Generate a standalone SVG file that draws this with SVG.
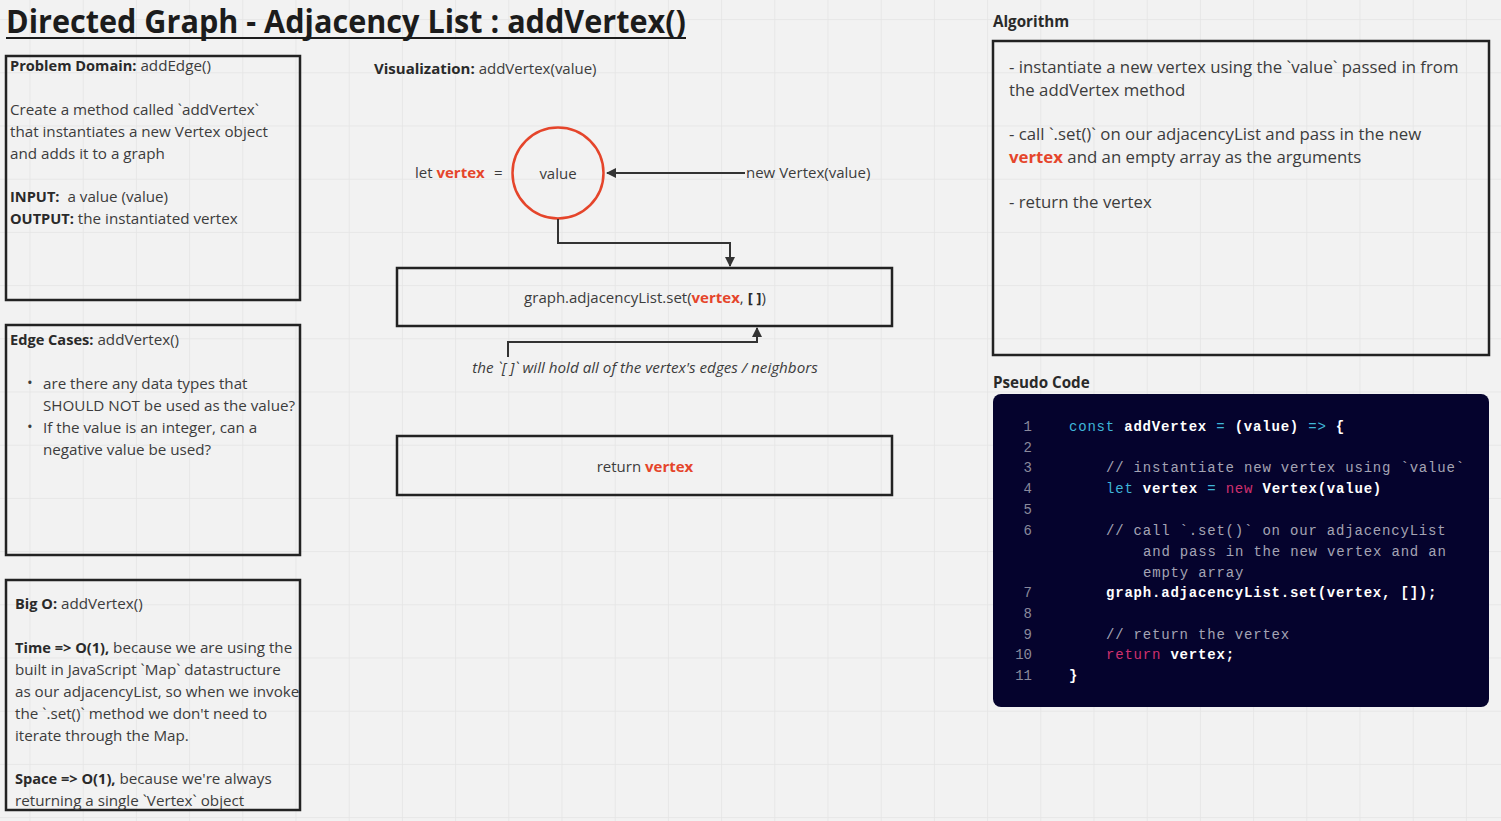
<svg xmlns="http://www.w3.org/2000/svg" width="1501" height="821" viewBox="0 0 1501 821">
<defs>
<pattern id="grid" x="29.5" y="19.1" width="53.2" height="53.2" patternUnits="userSpaceOnUse">
<path d="M0 0H53.2M0 0V53.2" fill="none" stroke="#e4e4e4" stroke-width="1.5"/>
</pattern>
<marker id="arrow" markerWidth="10" markerHeight="10" refX="9" refY="5" orient="auto" markerUnits="userSpaceOnUse">
<path d="M0,0 L10,5 L0,10 z" fill="#333"/>
</marker>
</defs>
<style>
.t{font-family:"Open Sans","Liberation Sans",sans-serif;fill:#3c3c3c;font-size:15.2px}
.b{font-weight:bold;fill:#2a2a2a}
.lb{font-size:14.6px}
.r{font-weight:bold;fill:#e5452b}
.box{fill:none;stroke:#222;stroke-width:2.5}
.conn{fill:none;stroke:#333;stroke-width:2}
.alg{font-size:16.8px}
.mid{font-size:15px}
.code{font-family:"Liberation Mono","DejaVu Sans Mono",monospace;font-size:14px;letter-spacing:0.8px;fill:#ffffff;font-weight:bold}
.ln{font-family:"Liberation Mono","DejaVu Sans Mono",monospace;font-size:14px;fill:#8a8a9c}
.kw{fill:#3fb6d8;font-weight:normal}
.pk{fill:#d0306e;font-weight:normal}
.cm{fill:#a4a4b4;font-weight:normal}
</style>
<rect width="1501" height="821" fill="#f2f2f2"/>
<rect width="1501" height="821" fill="url(#grid)"/>

<g id="title">
<text x="6" y="33" font-family="Open Sans, Liberation Sans, sans-serif" font-weight="bold" font-size="33" fill="#1c1c1c" textLength="680" lengthAdjust="spacingAndGlyphs">Directed Graph - Adjacency List : addVertex()</text>
<line x1="6" y1="38" x2="686" y2="38" stroke="#1c1c1c" stroke-width="2"/>
</g>

<g id="problem-domain">
<rect class="box" x="6" y="56" width="294" height="244"/>
<text class="t" x="10" y="71"><tspan class="b lb">Problem Domain:</tspan> addEdge()</text>
<text class="t" x="10" y="115">Create a method called `addVertex`</text>
<text class="t" x="10" y="137">that instantiates a new Vertex object</text>
<text class="t" x="10" y="159">and adds it to a graph</text>
<text class="t" x="10" y="202"><tspan class="b lb">INPUT:</tspan>&#160;&#160;a value (value)</text>
<text class="t" x="10" y="224"><tspan class="b lb">OUTPUT:</tspan> the instantiated vertex</text>
</g>

<g id="edge-cases">
<rect class="box" x="6" y="325" width="294" height="230"/>
<text class="t" x="10" y="345"><tspan class="b lb">Edge Cases:</tspan> addVertex()</text>
<text class="t" x="27" y="388" font-size="10">•</text>
<text class="t" x="43" y="389">are there any data types that</text>
<text class="t" x="43" y="411">SHOULD NOT be used as the value?</text>
<text class="t" x="27" y="432" font-size="10">•</text>
<text class="t" x="43" y="433">If the value is an integer, can a</text>
<text class="t" x="43" y="455">negative value be used?</text>
</g>

<g id="big-o">
<rect class="box" x="6" y="580" width="294" height="230"/>
<text class="t" x="15" y="609"><tspan class="b lb">Big O:</tspan> addVertex()</text>
<text class="t" x="15" y="653"><tspan class="b lb">Time =&gt; O(1),</tspan> because we are using the</text>
<text class="t" x="15" y="675">built in JavaScript `Map` datastructure</text>
<text class="t" x="15" y="697">as our adjacencyList, so when we invoke</text>
<text class="t" x="15" y="719">the `.set()` method we don't need to</text>
<text class="t" x="15" y="741">iterate through the Map.</text>
<text class="t" x="15" y="784"><tspan class="b lb">Space =&gt; O(1),</tspan> because we're always</text>
<text class="t" x="15" y="806">returning a single `Vertex` object</text>
</g>

<g id="visualization-label">
<text class="t mid" x="374" y="74"><tspan class="b">Visualization:</tspan> addVertex(value)</text>
</g>

<g id="vertex-node">
<circle cx="558" cy="173" r="45.5" fill="none" stroke="#e5452b" stroke-width="2.5"/>
<text class="t mid" x="558" y="179" text-anchor="middle">value</text>
<text class="t mid" x="415" y="178">let <tspan class="r">vertex</tspan></text>
<text class="t mid" x="494" y="178">=</text>
</g>

<g id="new-vertex-label">
<text class="t mid" x="746" y="178">new Vertex(value)</text>
</g>

<g id="set-node">
<rect class="box" x="397" y="268" width="495" height="58"/>
<text class="t mid" x="645" y="303" text-anchor="middle">graph.adjacencyList.set(<tspan class="r">vertex</tspan>, <tspan class="b">[ ]</tspan>)</text>
</g>

<g id="note">
<text class="t" x="645" y="373" text-anchor="middle" font-style="italic" font-size="15.6">the `[ ]` will hold all of the vertex's edges / neighbors</text>
</g>

<g id="return-node">
<rect class="box" x="397" y="436" width="495" height="59"/>
<text class="t mid" x="645" y="472" text-anchor="middle">return <tspan class="r">vertex</tspan></text>
</g>

<g id="connectors">
<path class="conn" d="M745 173H607" marker-end="url(#arrow)"/>
<path class="conn" d="M558 219V243H730V266" marker-end="url(#arrow)"/>
<path class="conn" d="M508 357V342H757V328" marker-end="url(#arrow)"/>
</g>

<g id="algorithm">
<text class="t b" x="993" y="27" font-size="15">Algorithm</text>
<rect class="box" x="993" y="41" width="496" height="314"/>
<text class="t alg" x="1009" y="73">- instantiate a new vertex using the `value` passed in from</text>
<text class="t alg" x="1009" y="96">the addVertex method</text>
<text class="t alg" x="1009" y="140">- call `.set()` on our adjacencyList and pass in the new</text>
<text class="t alg" x="1009" y="163"><tspan class="r">vertex</tspan> and an empty array as the arguments</text>
<text class="t alg" x="1009" y="208">- return the vertex</text>
</g>

<g id="pseudo-code">
<text class="t b" x="993" y="388" font-size="15">Pseudo Code</text>
<rect x="993" y="394" width="496" height="313" rx="8" fill="#05032d"/>
<g text-anchor="end">
<text class="ln" x="1032" y="431">1</text>
<text class="ln" x="1032" y="452">2</text>
<text class="ln" x="1032" y="472">3</text>
<text class="ln" x="1032" y="493">4</text>
<text class="ln" x="1032" y="514">5</text>
<text class="ln" x="1032" y="535">6</text>
<text class="ln" x="1032" y="597">7</text>
<text class="ln" x="1032" y="618">8</text>
<text class="ln" x="1032" y="639">9</text>
<text class="ln" x="1032" y="659">10</text>
<text class="ln" x="1032" y="680">11</text>
</g>
<text class="code" x="1069" y="431" xml:space="preserve"><tspan class="kw">const</tspan> addVertex <tspan class="kw">=</tspan> (value) <tspan class="kw">=&gt;</tspan> {</text>
<text class="code cm" x="1106" y="472" xml:space="preserve">// instantiate new vertex using `value`</text>
<text class="code" x="1106" y="493" xml:space="preserve"><tspan class="kw">let</tspan> vertex <tspan class="kw">=</tspan> <tspan class="pk">new</tspan> Vertex(value)</text>
<text class="code cm" x="1106" y="535" xml:space="preserve">// call `.set()` on our adjacencyList</text>
<text class="code cm" x="1143" y="556" xml:space="preserve">and pass in the new vertex and an</text>
<text class="code cm" x="1143" y="577" xml:space="preserve">empty array</text>
<text class="code" x="1106" y="597" xml:space="preserve">graph.adjacencyList.set(vertex, []);</text>
<text class="code cm" x="1106" y="639" xml:space="preserve">// return the vertex</text>
<text class="code" x="1106" y="659" xml:space="preserve"><tspan class="pk">return</tspan> vertex;</text>
<text class="code" x="1069" y="680">}</text>
</g>
</svg>
